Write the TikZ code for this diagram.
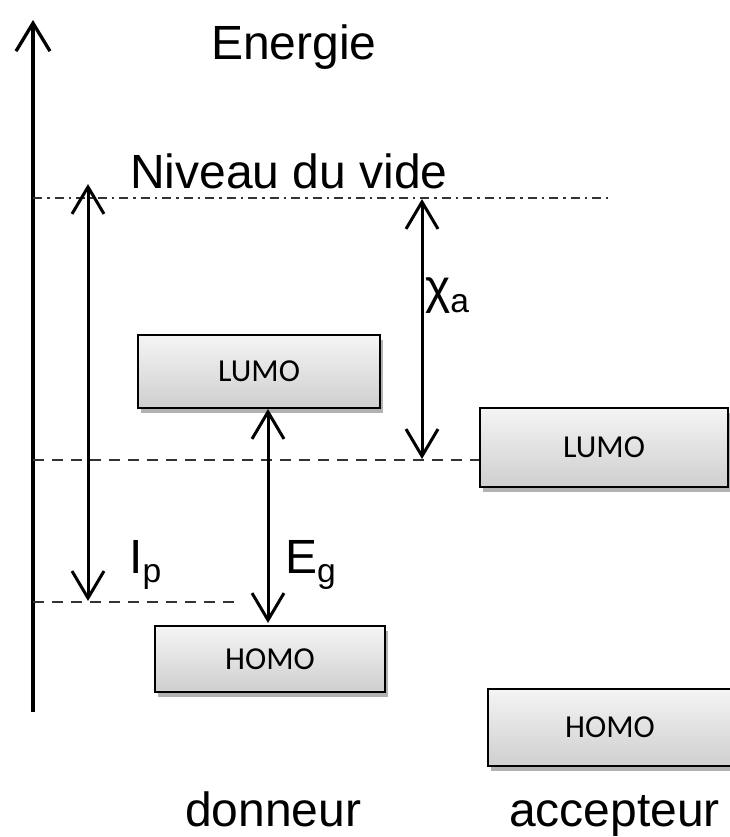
\documentclass[tikz,border=0pt]{standalone}
\usepackage{fontspec}
\setmainfont{Liberation Sans}
\newfontfamily\boxfont{Carlito}
\usetikzlibrary{arrows.meta,shadows}
\begin{document}
\begin{tikzpicture}[x=1pt,y=-1pt,
  level/.style={draw=black,line width=2.6pt,minimum width=#1,minimum height=72pt,
    inner sep=0pt,top color=gray!8,bottom color=gray!38,
    drop shadow={shadow xshift=3pt,shadow yshift=-5pt,opacity=0.3,fill=black},
    font=\boxfont\fontsize{32}{36}\selectfont},
  lbl/.style={inner sep=0pt,font=\fontsize{48}{54}\selectfont},
  barb/.tip={Straight Barb[length=27pt,width=32pt,line width=3pt]},
  energy/.style={line width=3pt,barb-barb},
  guide/.style={line width=2.2pt,black!80,dash pattern=on 11pt off 8pt},
  vacuum/.style={line width=2.2pt,black!80,dash pattern=on 9pt off 5pt on 2.5pt off 5pt}]
\useasboundingbox (0,0) rectangle (730,837);

% energy axis
\coordinate (ax0) at (33,712);
\coordinate (ax1) at (33,20);
\draw[line width=3.3pt,-{Straight Barb[length=28pt,width=34pt,line width=3.3pt]}] (ax0) -- (ax1);
\node[lbl,anchor=base west] (energie) at (211,60) {Energie};

% vacuum level
\coordinate (vac0) at (33,198);
\coordinate (vac1) at (608,198);
\draw[vacuum] (vac0) -- (vac1);
\node[lbl,anchor=base west] (vide) at (130,188) {Niveau du vide};

% donor levels
\node[level=242pt,minimum height=73pt] (dlumo) at (259,371.5) {LUMO};
\node[level=230pt,minimum height=66pt] (dhomo) at (270,659) {HOMO};

% acceptor levels
\node[level=248pt,minimum height=79pt] (alumo) at (604,447.5) {LUMO};
\node[level=244pt,minimum height=77pt] (ahomo) at (610,727.5) {HOMO};

% reference lines
\coordinate (ip0) at (33,602);
\coordinate (ip1) at (236,602);
\draw[guide] (ip0) -- (ip1);
\coordinate (ea0) at (33,460);
\draw[guide] (ea0) -- (alumo.west |- ea0);

% ionisation potential
\coordinate (iptop) at (88,184);
\coordinate (ipbot) at (88,601);
\draw[energy] (iptop) -- (ipbot);
\node[lbl,anchor=base west] (ip) at (129,573) {I\textsubscript{p}};

% electron affinity
\coordinate (chitop) at (422,199);
\coordinate (chibot) at (422,459);
\draw[energy] (chitop) -- (chibot);
\node[lbl,anchor=base west] (chi) at (425,303) {χ\textsubscript{a}};

% gap
\coordinate (egtop) at (268,409);
\coordinate (egbot) at (268,623);
\draw[energy] (egtop) -- (egbot);
\node[lbl,anchor=base west] (eg) at (285,573) {E\textsubscript{g}};

% labels
\node[lbl,anchor=base west] (don) at (185,826) {donneur};
\node[lbl,anchor=base west] (acc) at (509,826) {accepteur};
\end{tikzpicture}
\end{document}
